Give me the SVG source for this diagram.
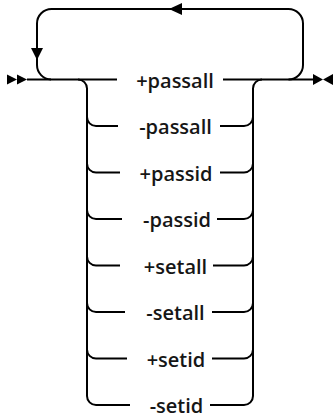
<svg xmlns="http://www.w3.org/2000/svg" width="335" height="418" viewBox="0 0 335 418">
  <style>
    .ln { fill: none; stroke: #000; stroke-width: 2; }
    .ah { fill: #000; stroke: none; }
    .lbl { font-family: "Open Sans", "Noto Sans", "Liberation Sans", sans-serif; font-size: 20px; font-weight: 600; fill: #161616; text-anchor: middle; }
  </style>
  <rect width="335" height="418" fill="#fff"/>
  <g id="connectors">
    <!-- main line -->
    <path class="ln" d="M27 79.5 H117 M223 79.5 H313"/>
    <!-- repeat loop -->
    <path class="ln" d="M51 79.5 A14.5 14.5 0 0 1 37 65 V23.5 A14.5 14.5 0 0 1 51.5 9 H288.5 A14.5 14.5 0 0 1 303 23.5 V65 A14.5 14.5 0 0 1 288.5 79.5"/>
    <polygon class="ah" points="169,9 182,3 182,15"/>
    <polygon class="ah" points="31,48 43,48 37,60"/>
    <!-- left branch -->
    <path class="ln" d="M78 79.5 A9 9 0 0 1 87 88.5 V396 A9 9 0 0 0 96 405 H130"/>
    <path class="ln" d="M87 117 A9 9 0 0 0 96 126 H118"/>
    <path class="ln" d="M87 163.5 A9 9 0 0 0 96 172.5 H120"/>
    <path class="ln" d="M87 210 A9 9 0 0 0 96 219 H122"/>
    <path class="ln" d="M87 256.5 A9 9 0 0 0 96 265.5 H120"/>
    <path class="ln" d="M87 303 A9 9 0 0 0 96 312 H125"/>
    <path class="ln" d="M87 349.5 A9 9 0 0 0 96 358.5 H127"/>
    <!-- right branch -->
    <path class="ln" d="M262 79.5 A9 9 0 0 0 253 88.5 V396 A9 9 0 0 1 244 405 H210"/>
    <path class="ln" d="M220 126 H244 A9 9 0 0 0 253 117"/>
    <path class="ln" d="M220 172.5 H244 A9 9 0 0 0 253 163.5"/>
    <path class="ln" d="M217 219 H244 A9 9 0 0 0 253 210"/>
    <path class="ln" d="M213 265.5 H244 A9 9 0 0 0 253 256.5"/>
    <path class="ln" d="M212 312 H244 A9 9 0 0 0 253 303"/>
    <path class="ln" d="M212 358.5 H244 A9 9 0 0 0 253 349.5"/>
    <!-- start / end markers -->
    <polygon class="ah" points="7,74.5 17,79.5 7,84.5"/>
    <polygon class="ah" points="17,74.5 27,79.5 17,84.5"/>
    <polygon class="ah" points="313,74 323,79.5 313,85"/>
    <polygon class="ah" points="333,74 323,79.5 333,85"/>
  </g>
  <g id="opt-plus-passall"><text class="lbl" x="175" y="87.5">+passall</text></g>
  <g id="opt-minus-passall"><text class="lbl" x="175.5" y="134">-passall</text></g>
  <g id="opt-plus-passid"><text class="lbl" x="176" y="180.5">+passid</text></g>
  <g id="opt-minus-passid"><text class="lbl" x="177" y="227">-passid</text></g>
  <g id="opt-plus-setall"><text class="lbl" x="175.5" y="273.5">+setall</text></g>
  <g id="opt-minus-setall"><text class="lbl" x="175.5" y="320">-setall</text></g>
  <g id="opt-plus-setid"><text class="lbl" x="176" y="366.5">+setid</text></g>
  <g id="opt-minus-setid"><text class="lbl" x="176.5" y="413">-setid</text></g>
</svg>
